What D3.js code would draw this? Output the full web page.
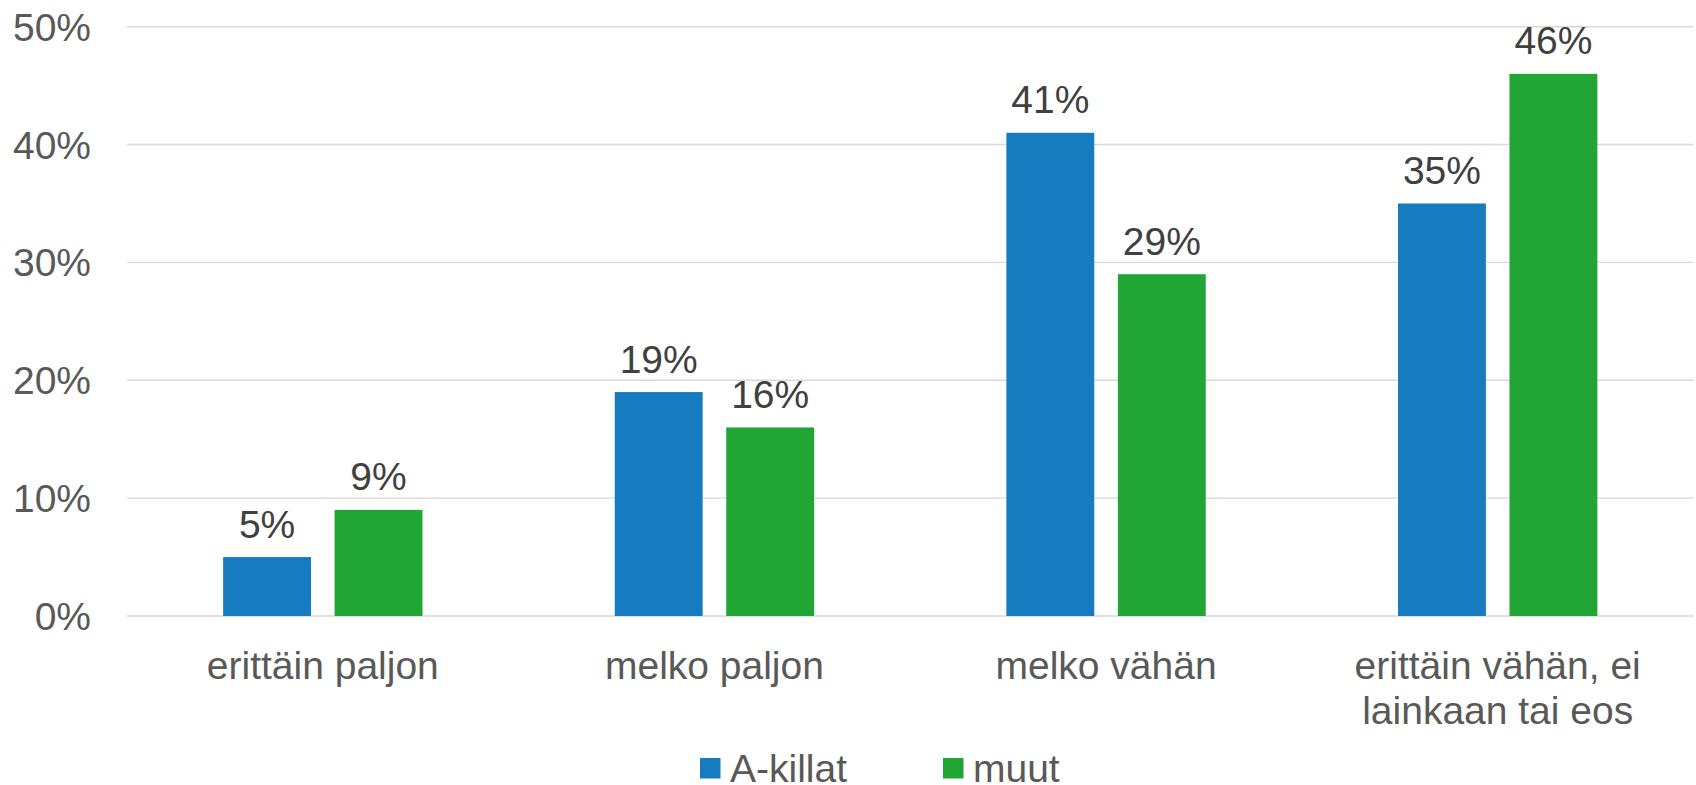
<!DOCTYPE html>
<html>
<head>
<meta charset="utf-8">
<script src="https://cdn.jsdelivr.net/npm/d3@7"></script>
<style>
  html, body { margin: 0; padding: 0; background: #ffffff; }
  svg { display: block; font-family: "Liberation Sans", Arial, sans-serif; }
</style>
</head>
<body>
<svg id="chart" width="1696" height="785"></svg>
<script>
const categories = [
  ["erittäin paljon"],
  ["melko paljon"],
  ["melko vähän"],
  ["erittäin vähän, ei", "lainkaan tai eos"]
];
const seriesNames = ["A-killat", "muut"];
const seriesColors = ["#167BBF", "#21A636"];
const akillat = [0.05, 0.19, 0.41, 0.35];
const muut = [0.09, 0.16, 0.29, 0.46];
const yTicks = [0, 0.1, 0.2, 0.3, 0.4, 0.5];

(function () {
const svg = d3.select("#chart");
const plotLeft = 127, plotRight = 1693.5, plotTop = 26.7, plotBottom = 616;

const catKeys = categories.map(c => c.join(" "));
const x0 = d3.scaleBand().domain(catKeys).range([plotLeft, plotRight]).padding(0);
const y = d3.scaleLinear().domain([0, 0.5]).range([plotBottom, plotTop]);

const groupFrac = 199.3 / 391.5;
const x1 = d3.scaleBand().domain(seriesNames)
  .range([0, x0.bandwidth() * groupFrac]).paddingInner(0.2115).paddingOuter(0);
const groupOffset = (x0.bandwidth() - x0.bandwidth() * groupFrac) / 2;

// gridlines
svg.append("g").selectAll("line").data(yTicks).join("line")
  .attr("x1", plotLeft).attr("x2", plotRight)
  .attr("y1", d => y(d)).attr("y2", d => y(d))
  .attr("stroke", "#d9d9d9").attr("stroke-width", 1.4);

// y axis labels
const fmt = d3.format(".0%");
svg.append("g").selectAll("text").data(yTicks).join("text")
  .attr("x", 91).attr("y", d => y(d) + 14)
  .attr("text-anchor", "end")
  .attr("font-size", 39).attr("fill", "#595959")
  .text(d => fmt(d));

const seriesData = [akillat, muut];
const rows = [];
catKeys.forEach((c, i) => {
  seriesNames.forEach((s, j) => rows.push({cat: c, s, j, v: seriesData[j][i]}));
});

// bars
svg.append("g").selectAll("rect").data(rows).join("rect")
  .attr("x", d => x0(d.cat) + groupOffset + x1(d.s))
  .attr("width", x1.bandwidth())
  .attr("y", d => y(d.v))
  .attr("height", d => y(0) - y(d.v))
  .attr("fill", d => seriesColors[d.j]);

// data labels
svg.append("g").selectAll("text").data(rows).join("text")
  .attr("x", d => x0(d.cat) + groupOffset + x1(d.s) + x1.bandwidth() / 2)
  .attr("y", d => y(d.v) - 19.5)
  .attr("text-anchor", "middle")
  .attr("font-size", 39).attr("fill", "#404040")
  .text(d => fmt(d.v));

// category labels
const catG = svg.append("g").selectAll("text").data(categories).join("text")
  .attr("text-anchor", "middle")
  .attr("font-size", 39).attr("fill", "#595959");
catG.each(function(lines, i) {
  const t = d3.select(this);
  const cx = x0(catKeys[i]) + x0.bandwidth() / 2;
  lines.forEach((ln, k) => {
    t.append("tspan").attr("x", cx).attr("y", 678.5 + k * 45).text(ln);
  });
});

// legend
const legendX = [700, 943];
const leg = svg.append("g").selectAll("g").data(seriesNames).join("g")
  .attr("transform", (d, i) => `translate(${legendX[i]},0)`);
leg.append("rect").attr("x", 0).attr("y", 758).attr("width", 20.5).attr("height", 20.5)
  .attr("fill", (d, i) => seriesColors[i]);
leg.append("text").attr("x", 30).attr("y", 782)
  .attr("font-size", 39).attr("fill", "#595959")
  .text(d => d);
})();
</script>
</body>
</html>
